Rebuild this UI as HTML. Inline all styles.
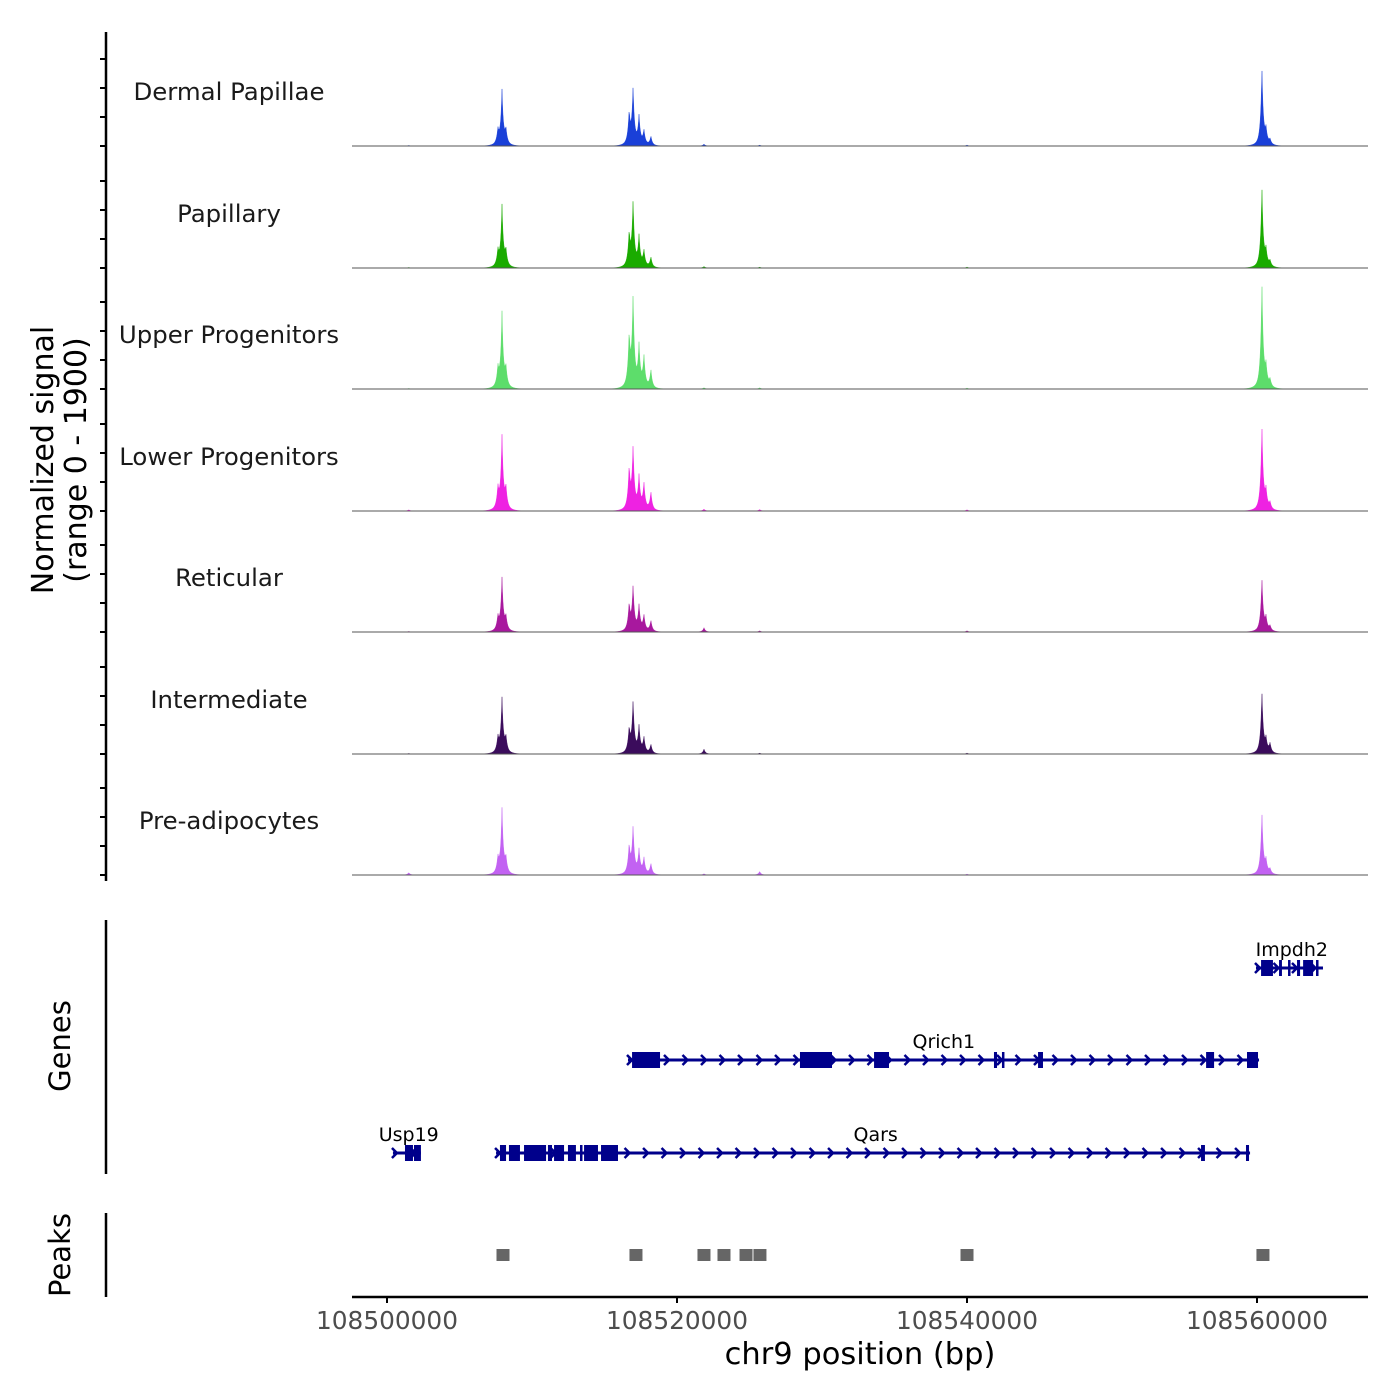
<!DOCTYPE html>
<html><head><meta charset="utf-8">
<style>
html,body{margin:0;padding:0;background:#fff;}
svg{display:block;font-family:"DejaVu Sans","Liberation Sans",sans-serif;}
</style></head>
<body>
<svg id="chart" width="1400" height="1400" viewBox="0 0 1400 1400"></svg>
<script>
// ---- data ----
const trackNames = ["Dermal Papillae","Papillary","Upper Progenitors","Lower Progenitors","Reticular","Intermediate","Pre-adipocytes"];
const trackColors = ["#1a40d8","#1aab00","#5ddd6b","#ee22e2","#a8189e","#3b0c5c","#c262f2"];
// component positions in kb from 108,500,000
const compPos = [7.65, 7.93, 8.2, 16.7, 16.97, 17.38, 17.72, 18.2, 60.34, 60.62, 60.9, 21.86, 25.7, 1.5, 40.0];
// component heights (signal units, range 0-1900) per track
const heightsDP   = [230, 880, 230, 500, 900, 450, 230, 150, 1240, 220, 80, 30, 15, 10, 15];
const heightsPap  = [250, 990, 250, 520, 1040, 480, 260, 170, 1290, 240, 90, 25, 15, 10, 15];
const heightsUp   = [300, 1210, 300, 800, 1440, 650, 500, 300, 1690, 300, 120, 20, 20, 10, 15];
const heightsLow  = [330, 1180, 330, 650, 990, 520, 420, 300, 1350, 280, 110, 30, 25, 20, 20];
const heightsRet  = [220, 850, 220, 420, 710, 400, 250, 180, 850, 200, 80, 70, 20, 10, 20];
const heightsInt  = [240, 880, 240, 380, 820, 420, 250, 150, 990, 200, 150, 80, 15, 10, 15];
const heightsPre  = [240, 1050, 240, 450, 750, 380, 260, 180, 990, 200, 80, 20, 60, 40, 15];
const trackHeights = [heightsDP,heightsPap,heightsUp,heightsLow,heightsRet,heightsInt,heightsPre];
const xTicks = [108500000,108520000,108540000,108560000];
// genes
const geneNames = ["Impdh2","Qrich1","Qars","Usp19"];
const geneStart = [59.93,16.62,7.52,0.41];
const geneEnd   = [64.55,60.14,59.52,2.34];
const geneRow   = [0,1,2,2];
const geneExons = [
 [[60.28,61.10],[61.52,61.72],[62.14,62.28],[62.76,62.97],[63.18,63.87],[64.07,64.21]],
 [[16.90,18.83],[28.48,30.69],[33.59,34.62],[41.86,42.07],[42.41,42.55],[44.90,45.24],[56.49,57.04],[59.31,60.07]],
 [[7.79,8.21],[8.41,9.17],[9.45,10.97],[11.10,11.38],[11.52,12.21],[12.48,13.03],[13.31,13.45],[13.59,14.55],[14.76,15.93],[56.14,56.41],[59.24,59.45]],
 [[1.24,1.79],[1.86,2.34]]
];
const geneLabelKb = [62.4,38.4,33.7,1.5];
const peakPos = [8.0,17.17,21.86,23.24,24.76,25.72,40.0,60.41];

// ---- scales ----
const X0=352,X1=1368, BP0=108497586, PXPB=0.0145;
const xs = bp => X0 + (bp-BP0)*PXPB;
const xk = kb => xs(108500000+kb*1000);
const baselines = [146,268,389,511,632,754,875];
const ySig = (v,base) => base - v*(118/1900);
const svg=document.getElementById('chart');
const NS="http://www.w3.org/2000/svg";
function mk(tag,attrs,parent){const e=document.createElementNS(NS,tag);for(const k in attrs)e.setAttribute(k,attrs[k]);(parent||svg).appendChild(e);return e;}

// ---- y axis ----
mk('line',{x1:106,y1:32,x2:106,y2:881,stroke:'#000','stroke-width':2.5});
baselines.forEach(b=>{for(let k=0;k<4;k++){mk('line',{x1:100,y1:b-29*k,x2:106,y2:b-29*k,stroke:'#000','stroke-width':2});}});
const yt=mk('text',{x:0,y:0,'font-size':30,'text-anchor':'middle',transform:'translate(53,460) rotate(-90)'});


yt.textContent='Normalized signal';
const yt2=mk('text',{x:0,y:0,'font-size':30,'text-anchor':'middle',transform:'translate(86,460) rotate(-90)'});


yt2.textContent='(range 0 - 1900)';

// ---- tracks ----
trackNames.forEach((name,t)=>{
  const base=baselines[t], hs=trackHeights[t];
  const g=mk('g',{});
  
  
  let d='M'+X0+','+base;
  for(let px=X0;px<=X1;px+=0.5){
    const kb=(BP0+(px-X0)/PXPB-108500000)/1000;
    let v=0;
    for(let c=0;c<compPos.length;c++){
      const dd=Math.abs(kb-compPos[c]);
      v+=hs[c]*(Math.exp(-dd/0.09)*0.85+Math.exp(-dd/0.3)*0.15);
    }
    d+=' L'+px.toFixed(1)+','+ySig(v,base).toFixed(2);
  }
  d+=' L'+X1+','+base+' Z';
  mk('path',{d:d,fill:trackColors[t],stroke:trackColors[t],'stroke-width':0.4},g);
  mk('line',{x1:X0,y1:base,x2:X1,y2:base,stroke:'#555','stroke-width':1},g);
  const lb=mk('text',{x:229,y:base-46,'font-size':24.4,'text-anchor':'middle',fill:'#1a1a1a'},g);
  
  
  lb.textContent=name;
});

// ---- genes ----
mk('line',{x1:106,y1:920,x2:106,y2:1174,stroke:'#000','stroke-width':2.5});
const gt=mk('text',{x:0,y:0,'font-size':29,'text-anchor':'middle',transform:'translate(70,1046) rotate(-90)'});


gt.textContent='Genes';
const rowY=[968,1060,1153];
const gc='#00008b';
geneNames.forEach((n,i)=>{
  const y=rowY[geneRow[i]], s=xk(geneStart[i]), e=xk(geneEnd[i]);
  const g=mk('g',{});
  
  
  mk('line',{x1:s,y1:y,x2:e,y2:y,stroke:gc,'stroke-width':3},g);
  for(let ax=s+3;ax<=e;ax+=18.5){
    mk('polyline',{points:`${ax-4},${y-5} ${ax+1},${y} ${ax-4},${y+5}`,fill:'none',stroke:gc,'stroke-width':2.5},g);
  }
  geneExons[i].forEach(ex=>{
    const a=xk(ex[0]),b=xk(ex[1]);
    mk('rect',{x:a,y:y-8,width:Math.max(b-a,2.5),height:16,fill:gc},g);
  });
  const t=mk('text',{x:xk(geneLabelKb[i]),y:y-12,'font-size':19,'text-anchor':'middle',fill:'#000'},g);
  
  
  t.textContent=n;
});

// ---- peaks ----
mk('line',{x1:106,y1:1213,x2:106,y2:1297,stroke:'#000','stroke-width':2.5});
const pt=mk('text',{x:0,y:0,'font-size':29,'text-anchor':'middle',transform:'translate(70,1255) rotate(-90)'});


pt.textContent='Peaks';
peakPos.forEach(p=>{
  const r=mk('rect',{x:xk(p)-6.5,y:1249,width:13,height:12,fill:'#666'});
  
  
});

// ---- x axis ----
mk('line',{x1:X0,y1:1297,x2:X1,y2:1297,stroke:'#000','stroke-width':2.5});
xTicks.forEach(v=>{
  const x=xs(v);
  mk('line',{x1:x,y1:1297,x2:x,y2:1303,stroke:'#000','stroke-width':2});
  const t=mk('text',{x:x,y:1329,'font-size':24.8,'text-anchor':'middle',fill:'#4d4d4d'});
  
  
  t.textContent=String(v);
});
const xt=mk('text',{x:860,y:1364,'font-size':30.5,'text-anchor':'middle',fill:'#000'});


xt.textContent='chr9 position (bp)';
</script>
</body></html>
